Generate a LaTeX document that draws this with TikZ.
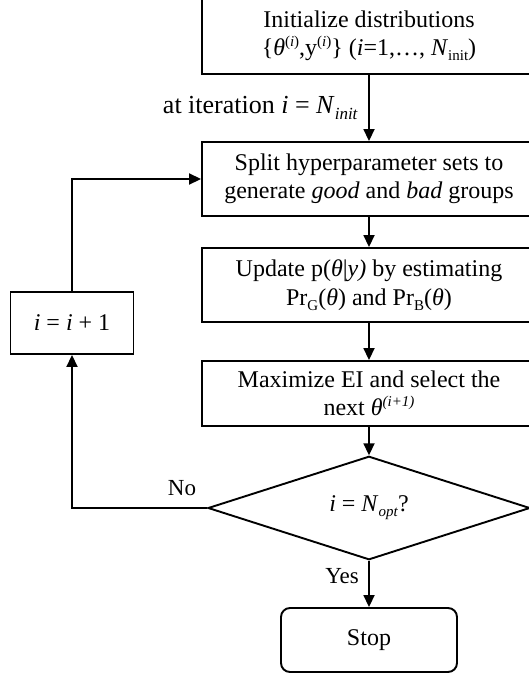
\documentclass[tikz,border=0pt]{standalone}
\usepackage{fontspec}
\setmainfont{Liberation Serif}
\usetikzlibrary{arrows.meta,shapes.geometric}
\newcommand{\supx}[1]{\raisebox{0.85ex}{\fontsize{15}{15}\selectfont #1}}
\newcommand{\subx}[1]{\raisebox{-0.45ex}{\fontsize{15}{15}\selectfont #1}}
\newcommand{\subl}[1]{\raisebox{-0.45ex}{\fontsize{17}{17}\selectfont #1}}
\begin{document}
\begin{tikzpicture}[x=1pt,y=-1pt,
  box/.style={draw,line width=1.9pt,minimum width=334pt,inner sep=0pt,align=center,
    font=\fontsize{24}{28.5}\selectfont},
  smallbox/.style={draw,line width=1.9pt,inner sep=0pt,align=center,
    font=\fontsize{24}{28.5}\selectfont},
  lbl/.style={inner sep=0pt,font=\fontsize{23}{27}\selectfont},
  arr/.style={line width=1.8pt,-{Triangle[length=12pt,width=11pt]}}]
\useasboundingbox (0,0) rectangle (529,677);
\clip (0,0) rectangle (529,677);
\node[box,minimum height=76pt] (init) at (369,36)
  {Initialize distributions\\ \{\textit{θ}\supx{(\textit{i})},y\supx{(\textit{i})}\} (\textit{i}=1,…, \textit{N}\subx{init})};
\node[box,minimum height=74pt] (split) at (369,179)
  {Split hyperparameter sets to\\ generate \textit{good} and \textit{bad} groups};
\node[box,minimum height=74pt] (upd) at (369,285)
  {Update p(\textit{θ}|\textit{y)} by estimating\\ Pr\subx{G}(\textit{θ}) and Pr\subx{B}(\textit{θ})};
\node[box,minimum height=65pt] (max) at (369,393.5)
  {Maximize EI and select the\\ next \textit{θ}\supx{\textit{(i+1)}}};
\node[draw,diamond,line width=1.9pt,minimum width=322pt,minimum height=98pt,inner sep=0pt,
  font=\fontsize{24}{28.5}\selectfont] (dec) at (369,508)
  {\textit{i} = \textit{N}\subx{\textit{opt}}?};
\node[smallbox,rounded corners=9pt,minimum width=176pt,minimum height=64pt] (stop) at (369,640) {Stop};
\node[smallbox,minimum width=123pt,minimum height=62pt] (inc) at (72,323) {\textit{i} = \textit{i} + 1};
\coordinate (c1) at (72,508);
\coordinate (c2) at (72,179);
\draw[arr] (init) -- (split);
\draw[arr] (split) -- (upd);
\draw[arr] (upd) -- (max);
\draw[arr] (max) -- (dec);
\draw[arr] (dec) -- (stop);
\draw[arr] (dec.west) -- (c1) -- (inc.south);
\draw[arr] (inc.north) -- (c2) -- (split.west);
\node[lbl,anchor=east,font=\fontsize{26}{30}\selectfont] (it) at (358,108)
  {at iteration \textit{i} = \textit{N}\subl{\textit{init}}};
\node[lbl] (no) at (182,488) {No};
\node[lbl] (yes) at (342,576) {Yes};
\end{tikzpicture}
\end{document}
